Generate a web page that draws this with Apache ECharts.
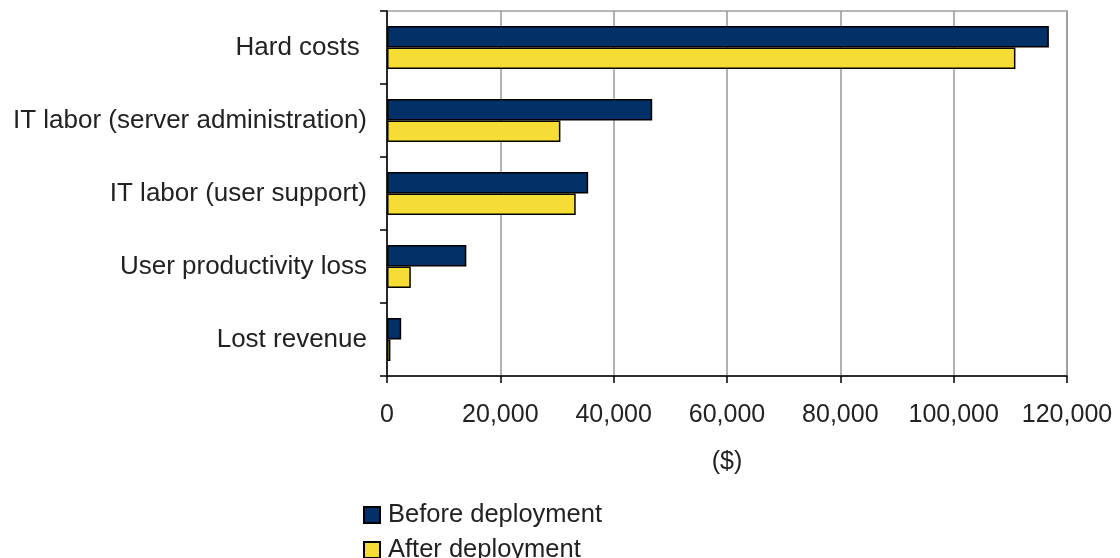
<!DOCTYPE html>
<html><head><meta charset="utf-8">
<script src="https://cdn.jsdelivr.net/npm/echarts@6/dist/echarts.min.js"></script>
<style>html,body{margin:0;padding:0;background:#fff}#c{width:1120px;height:558px}</style>
</head><body><div id="c"></div>
<script>
var categories = ['Hard costs ', 'IT labor (server administration)', 'IT labor (user support)', 'User productivity loss', 'Lost revenue'];
var seriesNames = ['Before deployment', 'After deployment'];
var beforeValues = [116800, 46800, 35500, 14000, 2500];
var afterValues = [110900, 30600, 33300, 4200, 600];
var xTicks = [0, 20000, 40000, 60000, 80000, 100000, 120000];

var chart = echarts.init(document.getElementById('c'));
var font = 'Liberation Sans, Arial, sans-serif';
var fs = 25;
function legendFor(name, top) {
  return {
    orient: 'vertical', left: 363, top: top, itemWidth: 16, itemHeight: 16,
    icon: 'rect', padding: 0,
    textStyle: {fontFamily: font, fontSize: 25.5, color: '#222', padding: [0, 0, 0, 3]},
    data: [name]
  };
}
chart.setOption({
  animation: false,
  backgroundColor: '#fff',
  grid: {left: 387, right: 53, top: 11, bottom: 182, show: true, borderColor: '#a0a0a0', borderWidth: 1.5},
  legend: [legendFor(seriesNames[0], 502), legendFor(seriesNames[1], 537)],
  xAxis: {
    type: 'value', min: xTicks[0], max: xTicks[xTicks.length - 1], interval: 20000,
    name: '($)', nameLocation: 'middle', nameGap: 74,
    nameTextStyle: {fontFamily: font, fontSize: fs, color: '#222'},
    axisLine: {show: true, lineStyle: {color: '#000', width: 1.5}},
    axisTick: {show: true, length: 7, lineStyle: {color: '#000', width: 1.5}},
    axisLabel: {fontFamily: font, fontSize: fs, color: '#222', margin: 27,
      formatter: function (v) { return v.toLocaleString('en-US'); }},
    splitLine: {show: true, lineStyle: {color: '#999', width: 1.5}}
  },
  yAxis: {
    type: 'category', data: categories, inverse: true,
    axisLine: {show: true, lineStyle: {color: '#000', width: 1.5}},
    axisTick: {show: true, length: 7, lineStyle: {color: '#000', width: 1.5}},
    axisLabel: {fontFamily: font, fontSize: 26, color: '#222', margin: 20},
    splitLine: {show: false}
  },
  series: [
    {name: seriesNames[0], type: 'bar', data: beforeValues, barCategoryGap: '41%', barGap: '0%',
     itemStyle: {color: '#033066', borderColor: '#000', borderWidth: 1.5}},
    {name: seriesNames[1], type: 'bar', data: afterValues, barCategoryGap: '41%', barGap: '0%',
     itemStyle: {color: '#F6DD35', borderColor: '#000', borderWidth: 1.5}}
  ]
});
</script></body></html>
